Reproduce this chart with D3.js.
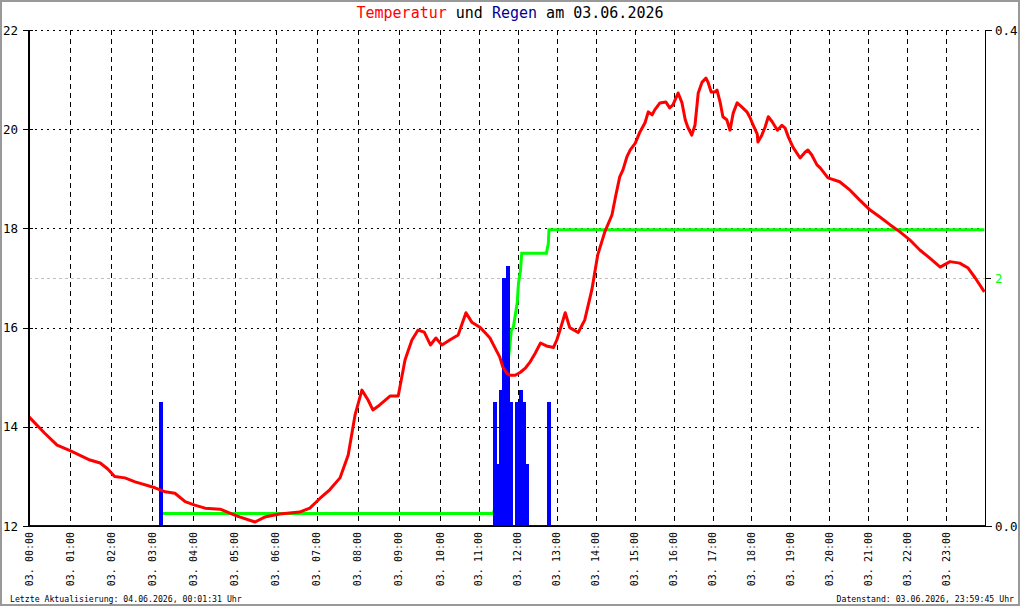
<!DOCTYPE html>
<html lang="de">
  <head>
    <meta charset="utf-8">
    <title>Temperatur und Regen</title>
    <script src="https://d3js.org/d3.v7.min.js"></script>
    <style>
      body { margin: 0; background: #fff; }
    </style>
  </head>
  <body>
    <script type="text/javascript">
      // --- data ---
      const dayLabel = "03.";
      const titleParts = [
        ["Temperatur", "#ff0000"], [" und ", "#000000"], ["Regen", "#000099"], [" am 03.06.2026", "#000000"]
      ];
      const footerLeft = "Letzte Aktualisierung: 04.06.2026, 00:01:31 Uhr";
      const footerRight = "Datenstand: 03.06.2026, 23:59:45 Uhr";

      const hours = d3.range(0, 24);
      const tempTicks = [12, 14, 16, 18, 20, 22];
      const rainTicks = [0, 0.4];
      const sumTicks = [2];

      // temperature [time, degC]
      const temperature = [
        ["00:00", 14.2], ["00:23", 13.87], ["00:41", 13.63], ["01:00", 13.52], ["01:29", 13.33],
        ["01:44", 13.27], ["01:55", 13.15], ["02:05", 13.0], ["02:20", 12.97], ["02:35", 12.89],
        ["03:04", 12.77], ["03:19", 12.69], ["03:33", 12.66], ["03:48", 12.49], ["04:02", 12.42],
        ["04:17", 12.36], ["04:39", 12.34], ["05:04", 12.2], ["05:30", 12.08], ["05:44", 12.18],
        ["06:06", 12.24], ["06:35", 12.28], ["06:50", 12.36], ["07:05", 12.56], ["07:19", 12.73],
        ["07:34", 12.97], ["07:46", 13.43], ["07:56", 14.24], ["08:06", 14.74], ["08:15", 14.54],
        ["08:22", 14.34], ["08:32", 14.44], ["08:47", 14.62], ["08:59", 14.62], ["09:09", 15.35],
        ["09:19", 15.75], ["09:28", 15.95], ["09:37", 15.91], ["09:46", 15.65], ["09:54", 15.79],
        ["10:03", 15.65], ["10:15", 15.75], ["10:28", 15.85], ["10:40", 16.3], ["10:49", 16.11],
        ["11:02", 16.0], ["11:10", 15.89], ["11:17", 15.79], ["11:24", 15.61], ["11:32", 15.41],
        ["11:37", 15.2], ["11:43", 15.08], ["11:48", 15.04], ["11:56", 15.04], ["12:04", 15.1],
        ["12:12", 15.19], ["12:19", 15.31], ["12:27", 15.49], ["12:35", 15.69], ["12:44", 15.63],
        ["12:55", 15.6], ["13:00", 15.75], ["13:05", 15.95], ["13:13", 16.3], ["13:20", 16.0],
        ["13:33", 15.9], ["13:43", 16.15], ["13:54", 16.76], ["14:03", 17.46], ["14:14", 17.93],
        ["14:25", 18.27], ["14:31", 18.67], ["14:37", 19.04], ["14:42", 19.18], ["14:48", 19.44],
        ["14:53", 19.58], ["15:01", 19.72], ["15:08", 19.94], ["15:16", 20.13], ["15:21", 20.35],
        ["15:27", 20.29], ["15:31", 20.39], ["15:39", 20.53], ["15:48", 20.55], ["15:54", 20.43],
        ["15:59", 20.49], ["16:07", 20.73], ["16:13", 20.53], ["16:18", 20.19], ["16:22", 20.04],
        ["16:28", 19.88], ["16:33", 20.08], ["16:38", 20.73], ["16:44", 20.95], ["16:50", 21.03],
        ["16:53", 20.95], ["16:58", 20.75], ["17:04", 20.75], ["17:07", 20.79], ["17:12", 20.53],
        ["17:16", 20.25], ["17:22", 20.19], ["17:27", 19.98], ["17:32", 20.33], ["17:38", 20.53],
        ["17:45", 20.45], ["17:53", 20.35], ["17:58", 20.23], ["18:02", 20.1], ["18:09", 19.9],
        ["18:10", 19.74], ["18:16", 19.88], ["18:21", 20.04], ["18:26", 20.25], ["18:32", 20.15],
        ["18:40", 19.98], ["18:47", 20.08], ["18:52", 20.02], ["18:57", 19.84], ["19:04", 19.64],
        ["19:15", 19.42], ["19:23", 19.54], ["19:27", 19.58], ["19:33", 19.48], ["19:41", 19.28],
        ["19:46", 19.22], ["19:58", 19.02], ["20:16", 18.94], ["20:32", 18.77], ["20:47", 18.57],
        ["21:03", 18.37], ["21:18", 18.23], ["21:34", 18.07], ["21:49", 17.93], ["22:04", 17.77],
        ["22:20", 17.56], ["22:35", 17.4], ["22:51", 17.22], ["23:06", 17.33], ["23:21", 17.3],
        ["23:34", 17.2], ["23:45", 17.0], ["23:59", 16.72]
      ];

      // rain per 5 minutes [start, mm]
      const rain = [
        ["03:10", 0.10], ["11:22", 0.10], ["11:27", 0.05], ["11:32", 0.11], ["11:37", 0.20],
        ["11:42", 0.21], ["11:47", 0.10], ["11:57", 0.10], ["12:02", 0.11], ["12:07", 0.10],
        ["12:12", 0.05], ["12:45", 0.10]
      ];

      // rain sum [time, mm]
      const rainSum = [
        ["03:14", 0.1], ["11:22", 0.1], ["11:28", 0.2], ["11:43", 1.06],
        ["11:44", 1.28], ["11:47", 1.42], ["11:50", 1.58], ["11:53", 1.6], ["11:59", 1.8],
        ["12:01", 1.96], ["12:04", 2.06], ["12:06", 2.2], ["12:44", 2.2], ["12:47", 2.28],
        ["12:48", 2.39], ["23:59", 2.39]
      ];

      // --- layout ---
      const svgWidth = 1020;
      const svgHeight = 606;
      const plotLeft = 29, plotRight = 985, plotTop = 30, plotBottom = 526;
      const font = "DejaVu Sans Mono";

      const toMin = s => { const p = s.split(":").map(Number); return p[0] * 60 + p[1]; };
      const pad = n => (n < 10 ? "0" : "") + n;

      var svg = d3.select("body")
        .append("svg")
        .attr("width", svgWidth)
        .attr("height", svgHeight);

      svg.append("rect")
        .attr("x", 1).attr("y", 1)
        .attr("width", svgWidth - 2).attr("height", svgHeight - 2)
        .attr("fill", "#fff")
        .attr("stroke", "#999")
        .attr("stroke-width", 2);

      // the logger's time axis runs a bit faster before 10:00
      var xScale = d3.scaleLinear()
        .domain([0, 600, 1440])
        .range([plotLeft, plotLeft + 411, plotRight]);
      var yTemp = d3.scaleLinear().domain([12, 22]).range([plotBottom, plotTop]);
      var yRain = d3.scaleLinear().domain([0, 0.4]).range([plotBottom, plotTop]);
      var ySum = d3.scaleLinear().domain([0, 2]).range([plotBottom, 278]);

      // grid
      svg.append("g")
        .selectAll("line")
        .data(tempTicks.filter(t => t > 12))
        .enter()
        .append("line")
        .attr("x1", plotLeft).attr("x2", plotRight - 4)
        .attr("y1", d => Math.round(yTemp(d)) + 0.5)
        .attr("y2", d => Math.round(yTemp(d)) + 0.5)
        .attr("stroke", "#000")
        .attr("stroke-dasharray", "2,4");

      svg.append("g")
        .selectAll("line")
        .data(hours.filter(h => h > 0))
        .enter()
        .append("line")
        .attr("x1", d => Math.round(xScale(d * 60)) + 0.5)
        .attr("x2", d => Math.round(xScale(d * 60)) + 0.5)
        .attr("y1", plotTop).attr("y2", plotBottom)
        .attr("stroke", "#000")
        .attr("stroke-dasharray", "5,4");

      svg.append("g")
        .selectAll("line")
        .data(sumTicks)
        .enter()
        .append("line")
        .attr("x1", plotLeft).attr("x2", plotRight)
        .attr("y1", d => Math.round(ySum(d)) + 0.5)
        .attr("y2", d => Math.round(ySum(d)) + 0.5)
        .attr("stroke", "#c0c0c0")
        .attr("stroke-dasharray", "3,3");

      // rain sum
      svg.append("path")
        .datum(rainSum)
        .attr("fill", "none")
        .attr("stroke", "#00ff00")
        .attr("stroke-width", 3)
        .attr("d", d3.line().x(d => xScale(toMin(d[0]))).y(d => ySum(d[1])));

      // rain bars
      svg.append("g")
        .attr("class", "rain")
        .attr("shape-rendering", "crispEdges")
        .selectAll("rect")
        .data(rain)
        .enter()
        .append("rect")
        .attr("x", d => Math.floor(xScale(toMin(d[0]))))
        .attr("width", d => Math.ceil(xScale(toMin(d[0]) + 5)) - Math.floor(xScale(toMin(d[0]))))
        .attr("y", d => Math.round(yRain(d[1])))
        .attr("height", d => yRain(0) - Math.round(yRain(d[1])))
        .attr("fill", "#0000ff");

      // temperature
      svg.append("path")
        .datum(temperature)
        .attr("fill", "none")
        .attr("stroke", "#ff0000")
        .attr("stroke-width", 3)
        .attr("stroke-linejoin", "round")
        .attr("d", d3.line().x(d => xScale(toMin(d[0]))).y(d => yTemp(d[1])));

      // axes
      svg.append("line")
        .attr("x1", plotLeft).attr("x2", plotLeft)
        .attr("y1", plotTop).attr("y2", plotBottom)
        .attr("stroke", "#000").attr("stroke-width", 2);
      svg.append("line")
        .attr("x1", plotRight + 0.5).attr("x2", plotRight + 0.5)
        .attr("y1", plotTop).attr("y2", plotBottom)
        .attr("stroke", "#000");
      svg.append("line")
        .attr("x1", plotLeft).attr("x2", plotRight)
        .attr("y1", plotBottom - 0.5).attr("y2", plotBottom - 0.5)
        .attr("stroke", "#0000aa");
      svg.append("line")
        .attr("x1", plotLeft).attr("x2", plotRight)
        .attr("y1", plotBottom + 0.5).attr("y2", plotBottom + 0.5)
        .attr("stroke", "#000");

      // left ticks + labels
      var gLeft = svg.append("g").selectAll("g").data(tempTicks).enter().append("g");
      gLeft.append("line")
        .attr("x1", plotLeft - 6).attr("x2", plotLeft + 4)
        .attr("y1", d => Math.round(yTemp(d)) + 0.5)
        .attr("y2", d => Math.round(yTemp(d)) + 0.5)
        .attr("stroke", "#000");
      gLeft.append("text")
        .attr("x", 18)
        .attr("y", d => yTemp(d))
        .attr("dy", "0.36em")
        .style("text-anchor", "end")
        .attr("font-family", font)
        .attr("font-size", "12.5px")
        .attr("fill", "#000")
        .text(d => d);

      // right ticks + labels
      var gRight = svg.append("g").selectAll("g").data(rainTicks).enter().append("g");
      gRight.append("line")
        .attr("x1", plotRight).attr("x2", plotRight + 7)
        .attr("y1", d => Math.round(yRain(d)) + 0.5)
        .attr("y2", d => Math.round(yRain(d)) + 0.5)
        .attr("stroke", "#000");
      gRight.append("text")
        .attr("x", plotRight + 10)
        .attr("y", d => yRain(d))
        .attr("dy", "0.36em")
        .attr("font-family", font)
        .attr("font-size", "12.5px")
        .attr("fill", "#000")
        .text(d => d.toFixed(1));

      var gSum = svg.append("g").selectAll("g").data(sumTicks).enter().append("g");
      gSum.append("line")
        .attr("x1", plotRight).attr("x2", plotRight + 6)
        .attr("y1", d => Math.round(ySum(d)) + 0.5)
        .attr("y2", d => Math.round(ySum(d)) + 0.5)
        .attr("stroke", "#000");
      gSum.append("text")
        .attr("x", plotRight + 10)
        .attr("y", d => ySum(d))
        .attr("dy", "0.36em")
        .attr("font-family", font)
        .attr("font-size", "12.5px")
        .attr("fill", "#00ff00")
        .text(d => d);

      // hour labels
      svg.append("g")
        .selectAll("text")
        .data(hours)
        .enter()
        .append("text")
        .attr("transform", d => "translate(" + xScale(d * 60) + "," + (plotBottom + 6) + ") rotate(-90)")
        .attr("dy", "0.35em")
        .style("text-anchor", "end")
        .attr("font-family", font)
        .attr("font-size", "10px")
        .attr("fill", "#000")
        .text(d => dayLabel + " " + pad(d) + ":00");

      // title
      var title = svg.append("text")
        .attr("x", svgWidth / 2)
        .attr("y", 18)
        .style("text-anchor", "middle")
        .attr("font-family", font)
        .attr("font-size", "15px");
      title.selectAll("tspan")
        .data(titleParts)
        .enter()
        .append("tspan")
        .attr("fill", d => d[1])
        .style("white-space", "pre")
        .text(d => d[0]);

      // footer
      svg.append("text")
        .attr("x", 10).attr("y", 602)
        .attr("font-family", font)
        .attr("font-size", "8.2px")
        .attr("fill", "#000")
        .text(footerLeft);
      svg.append("text")
        .attr("x", 1014).attr("y", 602)
        .style("text-anchor", "end")
        .attr("font-family", font)
        .attr("font-size", "8.2px")
        .attr("fill", "#000")
        .text(footerRight);
    </script>
  </body>
</html>
